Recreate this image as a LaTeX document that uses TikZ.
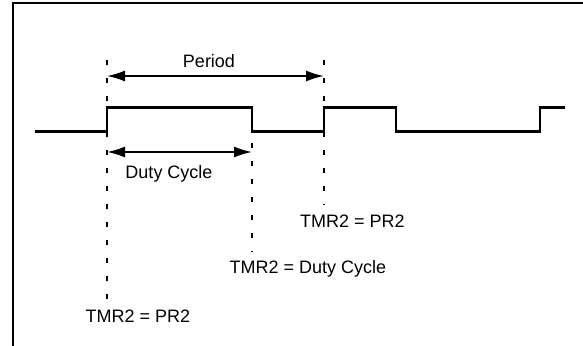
\documentclass[tikz,border=0pt]{standalone}
\usepackage{fontspec}
\setmainfont{Liberation Sans}
\usetikzlibrary{arrows.meta}
\begin{document}
\begin{tikzpicture}[x=1pt,y=-1pt,
  frame/.style={line width=2.5pt},
  wave/.style={line width=2.4pt},
  marker/.style={line width=2.2pt,dash pattern=on 5pt off 13pt},
  dim/.style={line width=1.8pt,{Latex[length=18pt,width=11pt]}-{Latex[length=18pt,width=11pt]}},
  lbl/.style={font=\fontsize{18}{20}\selectfont,anchor=base,inner sep=0pt}]
\useasboundingbox (0,0) rectangle (583,345);
\fill[white] (0,0) rectangle (583,345);
% frame
\draw[frame] (13,346) -- (13,3) -- (584,3);
% waveform
\coordinate (w0) at (35,131.5);
\draw[wave] (w0) -- (107,131.5) -- (107,107.5) -- (252,107.5) -- (252,131.5)
  -- (324,131.5) -- (324,107.5) -- (396,107.5) -- (396,131.5) -- (540,131.5)
  -- (540,107.5) -- (565,107.5);
% marker lines
\coordinate (a1) at (107,60);  \coordinate (a2) at (107,302);
\coordinate (b1) at (252,143); \coordinate (b2) at (252,252);
\coordinate (c1) at (324,60);  \coordinate (c2) at (324,205);
\draw[marker] (a1) -- (a2);
\draw[marker] (b1) -- (b2);
\draw[marker] (c1) -- (c2);
% dimension arrows
\coordinate (pL) at (107,76); \coordinate (pR) at (324,76);
\coordinate (dL) at (107,152); \coordinate (dR) at (252,152);
\draw[dim] (pL) -- (pR);
\draw[dim] (dL) -- (dR);
% labels
\node[lbl] (period) at (209,67) {Period};
\node[lbl] (duty) at (169,178) {Duty Cycle};
\node[lbl] (tpr) at (352.5,227) {TMR2 = PR2};
\node[lbl] (tdc) at (308,273) {TMR2 = Duty Cycle};
\node[lbl] (tpr0) at (138,322) {TMR2 = PR2};
\end{tikzpicture}
\end{document}
